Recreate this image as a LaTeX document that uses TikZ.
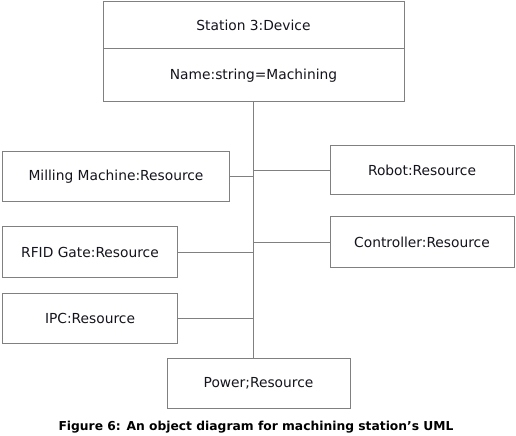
\documentclass[tikz,border=0pt]{standalone}
\usepackage{fontspec}
\setmainfont{DejaVu Sans}
\usepackage{tikz}
\usetikzlibrary{positioning}
\definecolor{boxline}{RGB}{128,128,128}
\definecolor{boxtext}{RGB}{20,20,30}
\tikzset{
  objbox/.style={draw=boxline, line width=1bp, fill=white, inner sep=0pt, minimum height=50bp, align=center, text=boxtext, font=\fontsize{13.8bp}{16bp}\selectfont},
  link/.style={draw=boxline, line width=1bp},
  caption/.style={font=\bfseries\fontsize{12.3bp}{14bp}\selectfont, text=black}
}

\begin{document}
\begin{tikzpicture}[x=1bp, y=-1bp]
      \useasboundingbox (0,0) rectangle (516,436);
      \node[objbox, minimum width=301bp, minimum height=48bp] (st) at (253.5,25.5) {Station 3:Device};
      \node[objbox, minimum width=301bp, minimum height=53bp] (nm) at (253.5,75.5) {Name:string=Machining};
      \node[objbox, minimum width=226bp] (mill) at (116,177) {Milling Machine:Resource};
      \node[objbox, minimum width=174bp] (rfid) at (90,252) {RFID Gate:Resource};
      \node[objbox, minimum width=174bp] (ipc) at (90,318) {IPC:Resource};
      \node[objbox, minimum width=184bp, minimum height=49bp] (robot) at (422,170.5) {Robot:Resource};
      \node[objbox, minimum width=184bp] (ctrl) at (422,242) {Controller:Resource};
      \node[objbox, minimum width=183bp] (pow) at (258.5,383) {Power;Resource};
      \draw[link] (nm.south) -- (nm.south |- pow.north);
      \draw[link] (mill.east) -- (mill.east -| nm.south);
      \draw[link] (rfid.east) -- (rfid.east -| nm.south);
      \draw[link] (ipc.east) -- (ipc.east -| nm.south);
      \draw[link] (robot.west) -- (robot.west -| nm.south);
      \draw[link] (ctrl.west) -- (ctrl.west -| nm.south);
      \node[caption] (cap) at (256,427) {Figure 6: An object diagram for machining station’s UML};
    \end{tikzpicture}
\end{document}
